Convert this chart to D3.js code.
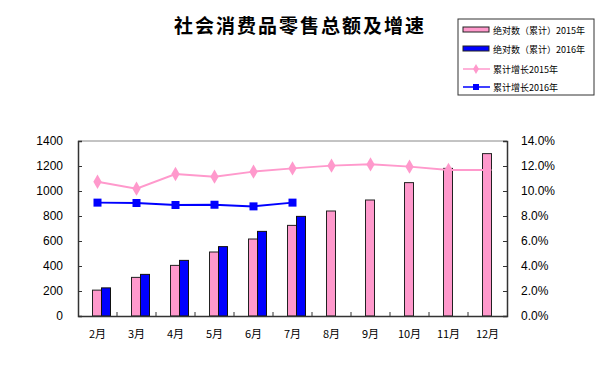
<!DOCTYPE html>
<html lang="zh">
<head>
  <meta charset="UTF-8">
  <title>社会消费品零售总额及增速</title>
  <script src="https://d3js.org/d3.v7.min.js"></script>
  <style>
    body { margin: 0; background: #fff; }
    svg { display: block; font-family: Arial, "Liberation Sans", sans-serif; }
    .title { font-family: "Noto Sans CJK SC", sans-serif; font-weight: bold; font-size: 19px; }
    .tick text { font-size: 12px; fill: #000; }
    .legend text { font-family: "Noto Sans CJK SC", sans-serif; font-size: 9px; }
  </style>
</head>
<body>
<svg id="chart" width="607" height="386"></svg>
<script>
  // data
  const months = ["2月", "3月", "4月", "5月", "6月", "7月", "8月", "9月", "10月", "11月", "12月"];
  const total2015 = [207, 309, 405, 512, 616, 725, 840, 928, 1067, 1181, 1299];
  const total2016 = [225, 333, 445, 555, 677, 797];
  const growth2015 = [10.74, 10.19, 11.36, 11.15, 11.55, 11.81, 12.03, 12.13, 11.95, 11.68, 11.68];
  const growth2016 = [9.07, 9.04, 8.88, 8.9, 8.77, 9.07];
  const leftTicks = [0, 200, 400, 600, 800, 1000, 1200, 1400];
  const rightTicks = [0, 2, 4, 6, 8, 10, 12, 14];

  const pink = "#FF99CC", blue = "#0000FF";
  const svg = d3.select("#chart");
  const pLeft = 78, pRight = 507, pTop = 141, pBottom = 316;

  const x = d3.scaleBand().domain(months).range([pLeft, pRight]);
  const y = d3.scaleLinear().domain([0, 1400]).range([pBottom, pTop]);
  const y2 = d3.scaleLinear().domain([0, 14]).range([pBottom, pTop]);

  svg.append("text").attr("class", "title")
    .attr("x", 300).attr("y", 33).attr("text-anchor", "middle")
    .style("letter-spacing", "2px")
    .text("社会消费品零售总额及增速");

  // plot border top
  svg.append("line").attr("x1", pLeft).attr("x2", pRight).attr("y1", pTop).attr("y2", pTop)
    .attr("stroke", "#888");

  // bars
  svg.append("g").selectAll("rect").data(total2015).join("rect")
    .attr("x", (d, i) => x(months[i]) + x.bandwidth() / 2 - 5)
    .attr("y", d => y(d)).attr("width", 9).attr("height", d => pBottom - y(d))
    .attr("fill", pink).attr("stroke", "#222").attr("stroke-width", 1);
  svg.append("g").selectAll("rect").data(total2016).join("rect")
    .attr("x", (d, i) => x(months[i]) + x.bandwidth() / 2 + 4)
    .attr("y", d => y(d)).attr("width", 9).attr("height", d => pBottom - y(d))
    .attr("fill", blue).attr("stroke", "#111").attr("stroke-width", 1);

  // axes
  const yAxisL = svg.append("g").attr("transform", `translate(${pLeft},0)`)
    .call(d3.axisLeft(y).tickValues(leftTicks).tickSize(-4).tickPadding(15)
      .tickFormat(d3.format("d")));
  const yAxisR = svg.append("g").attr("transform", `translate(${pRight},0)`)
    .call(d3.axisRight(y2).tickValues(rightTicks).tickSize(-4).tickPadding(14)
      .tickFormat(d => d.toFixed(1) + "%"));
  const xAxis = svg.append("g").attr("transform", `translate(0,${pBottom})`)
    .call(d3.axisBottom(x).tickSize(0).tickPadding(14));
  [yAxisL, yAxisR, xAxis].forEach(a => {
    a.select(".domain").attr("stroke", "#333").attr("stroke-width", 1.5);
    a.selectAll(".tick line").attr("stroke", "#333");
  });
  xAxis.selectAll(".tick text").style("font-family", "'Noto Sans CJK SC', sans-serif").style("font-size", "11px");
  // category separators on the bottom axis
  svg.append("g").selectAll("line").data(months.slice(1)).join("line")
    .attr("x1", d => x(d)).attr("x2", d => x(d))
    .attr("y1", pBottom).attr("y2", pBottom - 4).attr("stroke", "#333");

  // growth lines
  const cx = i => x(months[i]) + x.bandwidth() / 2;
  const line = d3.line().x((d, i) => cx(i)).y(d => y2(d));
  svg.append("path").datum(growth2015).attr("d", line)
    .attr("fill", "none").attr("stroke", pink).attr("stroke-width", 2);
  svg.append("g").selectAll("path").data(growth2015).join("path")
    .attr("d", d3.symbol(d3.symbolDiamond, 60))
    .attr("transform", (d, i) => `translate(${cx(i)},${y2(d)})`)
    .attr("fill", pink);
  svg.append("path").datum(growth2016).attr("d", line)
    .attr("fill", "none").attr("stroke", blue).attr("stroke-width", 2);
  svg.append("g").selectAll("rect").data(growth2016).join("rect")
    .attr("x", (d, i) => cx(i) - 4).attr("y", d => y2(d) - 4)
    .attr("width", 8).attr("height", 8).attr("fill", blue);

  // legend
  const legend = svg.append("g").attr("class", "legend");
  legend.append("rect").attr("x", 458).attr("y", 19).attr("width", 136).attr("height", 76)
    .attr("fill", "#fff").attr("stroke", "#333");
  const items = ["绝对数（累计）2015年", "绝对数（累计）2016年", "累计增长2015年", "累计增长2016年"];
  const rowY = [30, 49, 69, 87];
  items.forEach((t, i) => {
    const g = legend.append("g").attr("transform", `translate(0,${rowY[i]})`);
    if (i < 2) {
      g.append("rect").attr("x", 463).attr("y", -3).attr("width", 26).attr("height", 5)
        .attr("fill", i === 0 ? pink : blue).attr("stroke", "#222");
    } else {
      const c = i === 2 ? pink : blue;
      g.append("line").attr("x1", 463).attr("x2", 490).attr("stroke", c).attr("stroke-width", 1.5);
      if (i === 2) g.append("path").attr("d", d3.symbol(d3.symbolDiamond, 30)).attr("transform", "translate(476,0)").attr("fill", c);
      else g.append("rect").attr("x", 473).attr("y", -3).attr("width", 6).attr("height", 6).attr("fill", c);
    }
    g.append("text").attr("x", 493).attr("y", 3.5).text(t);
  });
</script>
</body>
</html>
